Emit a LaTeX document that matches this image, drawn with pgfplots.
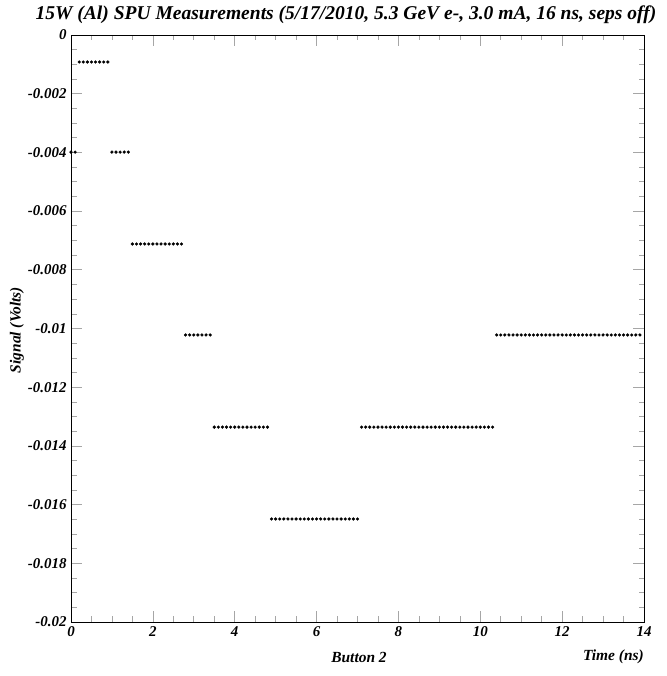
\documentclass[border=0pt]{standalone}
\usepackage{pgfplots}
\pgfplotsset{compat=1.18}
\usepackage{fontspec}
\setmainfont{Liberation Serif}
\begin{document}
\begin{tikzpicture}
\path[use as bounding box] (-71bp,-54bp) rectangle (596bp,622bp);
\begin{axis}[
  scale only axis,
  width=573bp, height=587bp,
  anchor=south west, at={(0,0)},
  xmin=0, xmax=14, ymin=-0.02, ymax=0,
  xtick={0,2,4,6,8,10,12,14},
  xticklabels={0,2,4,6,8,10,12,14},
  ytick={-0.02,-0.018,-0.016,-0.014,-0.012,-0.01,-0.008,-0.006,-0.004,-0.002,0},
  yticklabels={-0.02,-0.018,-0.016,-0.014,-0.012,-0.01,-0.008,-0.006,-0.004,-0.002,0},
  minor x tick num=3, minor y tick num=3,
  tick align=inside,
  major tick length=11bp, minor tick length=5.5bp,
  every tick/.style={color=black!35, line width=0.6bp},
  axis line style={black, line width=0.8bp},
  tick label style={font=\fontsize{15}{15}\selectfont\bfseries\itshape},
  xticklabel style={yshift=-1bp},
  yticklabel style={xshift=-1bp},
  scaled y ticks=false,
  clip=true,
]
\addplot[only marks, mark=*, mark size=1.4bp, black] coordinates {
(0.0,-0.00399) (0.1,-0.00399)
(0.2,-0.00092) (0.3,-0.00092) (0.4,-0.00092) (0.5,-0.00092) (0.6,-0.00092) (0.7,-0.00092) (0.8,-0.00092) (0.9,-0.00092)
(1.0,-0.00399) (1.1,-0.00399) (1.2,-0.00399) (1.3,-0.00399) (1.4,-0.00399)
(1.5,-0.00712) (1.6,-0.00712) (1.7,-0.00712) (1.8,-0.00712) (1.9,-0.00712) (2.0,-0.00712) (2.1,-0.00712) (2.2,-0.00712) (2.3,-0.00712) (2.4,-0.00712) (2.5,-0.00712) (2.6,-0.00712) (2.7,-0.00712)
(2.8,-0.01022) (2.9,-0.01022) (3.0,-0.01022) (3.1,-0.01022) (3.2,-0.01022) (3.3,-0.01022) (3.4,-0.01022)
(3.5,-0.01336) (3.6,-0.01336) (3.7,-0.01336) (3.8,-0.01336) (3.9,-0.01336) (4.0,-0.01336) (4.1,-0.01336) (4.2,-0.01336) (4.3,-0.01336) (4.4,-0.01336) (4.5,-0.01336) (4.6,-0.01336) (4.7,-0.01336) (4.8,-0.01336)
(4.9,-0.01649) (5.0,-0.01649) (5.1,-0.01649) (5.2,-0.01649) (5.3,-0.01649) (5.4,-0.01649) (5.5,-0.01649) (5.6,-0.01649) (5.7,-0.01649) (5.8,-0.01649) (5.9,-0.01649) (6.0,-0.01649) (6.1,-0.01649) (6.2,-0.01649) (6.3,-0.01649) (6.4,-0.01649) (6.5,-0.01649) (6.6,-0.01649) (6.7,-0.01649) (6.8,-0.01649) (6.9,-0.01649) (7.0,-0.01649)
(7.1,-0.01336) (7.2,-0.01336) (7.3,-0.01336) (7.4,-0.01336) (7.5,-0.01336) (7.6,-0.01336) (7.7,-0.01336) (7.8,-0.01336) (7.9,-0.01336) (8.0,-0.01336) (8.1,-0.01336) (8.2,-0.01336) (8.3,-0.01336) (8.4,-0.01336) (8.5,-0.01336) (8.6,-0.01336) (8.7,-0.01336) (8.8,-0.01336) (8.9,-0.01336) (9.0,-0.01336) (9.1,-0.01336) (9.2,-0.01336) (9.3,-0.01336) (9.4,-0.01336) (9.5,-0.01336) (9.6,-0.01336) (9.7,-0.01336) (9.8,-0.01336) (9.9,-0.01336) (10.0,-0.01336) (10.1,-0.01336) (10.2,-0.01336) (10.3,-0.01336)
(10.4,-0.01022) (10.5,-0.01022) (10.6,-0.01022) (10.7,-0.01022) (10.8,-0.01022) (10.9,-0.01022) (11.0,-0.01022) (11.1,-0.01022) (11.2,-0.01022) (11.3,-0.01022) (11.4,-0.01022) (11.5,-0.01022) (11.6,-0.01022) (11.7,-0.01022) (11.8,-0.01022) (11.9,-0.01022) (12.0,-0.01022) (12.1,-0.01022) (12.2,-0.01022) (12.3,-0.01022) (12.4,-0.01022) (12.5,-0.01022) (12.6,-0.01022) (12.7,-0.01022) (12.8,-0.01022) (12.9,-0.01022) (13.0,-0.01022) (13.1,-0.01022) (13.2,-0.01022) (13.3,-0.01022) (13.4,-0.01022) (13.5,-0.01022) (13.6,-0.01022) (13.7,-0.01022) (13.8,-0.01022) (13.9,-0.01022)
};
\end{axis}
\node[font=\fontsize{19.6}{19.6}\selectfont\bfseries\itshape, anchor=center] at (275bp,607bp) {15W (Al) SPU Measurements (5/17/2010, 5.3 GeV e-, 3.0 mA, 16 ns, seps off)};
\node[font=\fontsize{15.5}{15.5}\selectfont\bfseries\itshape, anchor=center] at (288bp,-35bp) {Button 2};
\node[font=\fontsize{15.5}{15.5}\selectfont\bfseries\itshape, anchor=east, inner sep=0pt] at (573bp,-35bp) {Time (ns)};
\node[font=\fontsize{15.5}{15.5}\selectfont\bfseries\itshape, anchor=center, rotate=90] at (-54bp,292bp) {Signal (Volts)};
\end{tikzpicture}
\end{document}
